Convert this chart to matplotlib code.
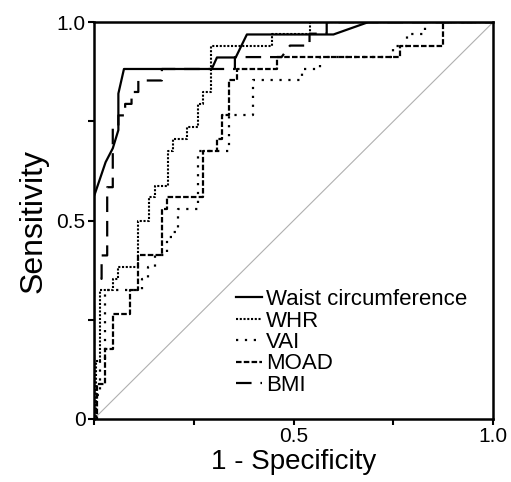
import matplotlib
matplotlib.use("Agg")
import matplotlib.pyplot as plt
from matplotlib.ticker import FixedLocator

plt.rcParams['font.family'] = ['Liberation Sans', 'DejaVu Sans']

# ROC curves (1 - specificity, sensitivity)
waist_fpr = [0, 0, 0.029, 0.047, 0.061, 0.061, 0.075, 0.295, 0.308, 0.355, 0.383, 0.600, 0.687, 1.0]
waist_tpr = [0, 0.561, 0.647, 0.682, 0.728, 0.820, 0.882, 0.882, 0.911, 0.911, 0.969, 0.969, 1.0, 1.0]

whr_fpr = [0, 0.005, 0.005, 0.015, 0.015, 0.048, 0.048, 0.061, 0.061, 0.109, 0.109, 0.139, 0.139,
           0.153, 0.153, 0.186, 0.186, 0.199, 0.199, 0.232, 0.232, 0.261, 0.261, 0.274, 0.274,
           0.292, 0.292, 0.445, 0.445, 0.540, 0.540, 1.0]
whr_tpr = [0, 0, 0.147, 0.147, 0.324, 0.324, 0.353, 0.353, 0.382, 0.382, 0.500, 0.500, 0.559,
           0.559, 0.588, 0.588, 0.676, 0.676, 0.706, 0.706, 0.735, 0.735, 0.794, 0.794, 0.824,
           0.824, 0.941, 0.941, 0.971, 0.971, 1.0, 1.0]

vai_fpr = [0, 0.005, 0.005, 0.015, 0.015, 0.028, 0.028, 0.120, 0.120, 0.136, 0.136, 0.153, 0.153,
           0.182, 0.182, 0.199, 0.199, 0.211, 0.211, 0.261, 0.261, 0.337, 0.337, 0.399, 0.399,
           0.521, 0.521, 0.566, 0.566, 0.750, 0.750, 0.784, 0.784, 0.830, 0.830, 1.0]
vai_tpr = [0, 0, 0.059, 0.059, 0.147, 0.147, 0.324, 0.324, 0.353, 0.353, 0.382, 0.382, 0.412,
           0.412, 0.459, 0.459, 0.472, 0.472, 0.529, 0.529, 0.676, 0.676, 0.765, 0.765, 0.853,
           0.853, 0.882, 0.882, 0.912, 0.912, 0.941, 0.941, 0.971, 0.971, 1.0, 1.0]

moad_fpr = [0, 0.008, 0.008, 0.028, 0.028, 0.047, 0.047, 0.090, 0.090, 0.110, 0.110, 0.170, 0.170,
            0.184, 0.184, 0.274, 0.274, 0.308, 0.308, 0.320, 0.320, 0.337, 0.337, 0.358, 0.358,
            0.458, 0.458, 0.767, 0.767, 0.875, 0.875, 1.0]
moad_tpr = [0, 0, 0.088, 0.088, 0.176, 0.176, 0.265, 0.265, 0.324, 0.324, 0.412, 0.412, 0.529,
            0.529, 0.559, 0.559, 0.676, 0.676, 0.706, 0.706, 0.765, 0.765, 0.853, 0.853, 0.882,
            0.882, 0.912, 0.912, 0.941, 0.941, 1.0, 1.0]

bmi_fpr = [0, 0, 0.019, 0.019, 0.033, 0.033, 0.047, 0.047, 0.061, 0.061, 0.078, 0.078, 0.094,
           0.094, 0.111, 0.111, 0.170, 0.170, 0.353, 0.353, 0.470, 0.491, 0.540, 0.540, 0.583,
           0.583, 1.0]
bmi_tpr = [0, 0.353, 0.353, 0.412, 0.412, 0.584, 0.584, 0.735, 0.735, 0.765, 0.765, 0.794, 0.794,
           0.824, 0.824, 0.853, 0.853, 0.882, 0.882, 0.912, 0.912, 0.941, 0.941, 0.971, 0.971,
           1.0, 1.0]

fig = plt.figure(figsize=(5.11, 4.82), dpi=100)
ax = fig.add_axes([0.184, 0.131, 0.781, 0.823])

# reference diagonal
ax.plot([0, 1], [0, 1], color="#b0b0b0", linewidth=0.8, zorder=1)

ax.plot(waist_fpr, waist_tpr, color="black", linewidth=1.6, label="Waist circumference")
ax.plot(whr_fpr, whr_tpr, color="black", linewidth=1.5, linestyle=(0, (1, 0.8)), label="WHR")
ax.plot(vai_fpr, vai_tpr, color="black", linewidth=1.6, linestyle=(0, (1, 3)), label="VAI")
ax.plot(moad_fpr, moad_tpr, color="black", linewidth=1.6, linestyle=(0, (2.5, 1)), label="MOAD")
ax.plot(bmi_fpr, bmi_tpr, color="black", linewidth=1.6, linestyle=(0, (7, 4)), label="BMI")

ax.set_xlim(0, 1)
ax.set_ylim(0, 1)
ax.xaxis.set_major_locator(FixedLocator([0, 0.5, 1.0]))
ax.yaxis.set_major_locator(FixedLocator([0, 0.5, 1.0]))
ax.xaxis.set_minor_locator(FixedLocator([0.25, 0.75]))
ax.yaxis.set_minor_locator(FixedLocator([0.25, 0.75]))
ax.set_xticklabels(["", "0.5", "1.0"])
ax.set_yticklabels(["0", "0.5", "1.0"])
ax.tick_params(which="both", direction="out", length=4, width=1.5, labelsize=15, pad=2)

for s in ax.spines.values():
    s.set_linewidth(1.8)

ax.set_xlabel("1 - Specificity", fontsize=20, labelpad=2)
ax.set_ylabel("Sensitivity", fontsize=23, labelpad=6)

ax.legend(loc="upper left", frameon=False, fontsize=16, handlelength=1.2,
          handletextpad=0.15, labelspacing=0.02, borderpad=0, borderaxespad=0,
          bbox_to_anchor=(0.355, 0.327))

fig.savefig("out.png", dpi=100)
